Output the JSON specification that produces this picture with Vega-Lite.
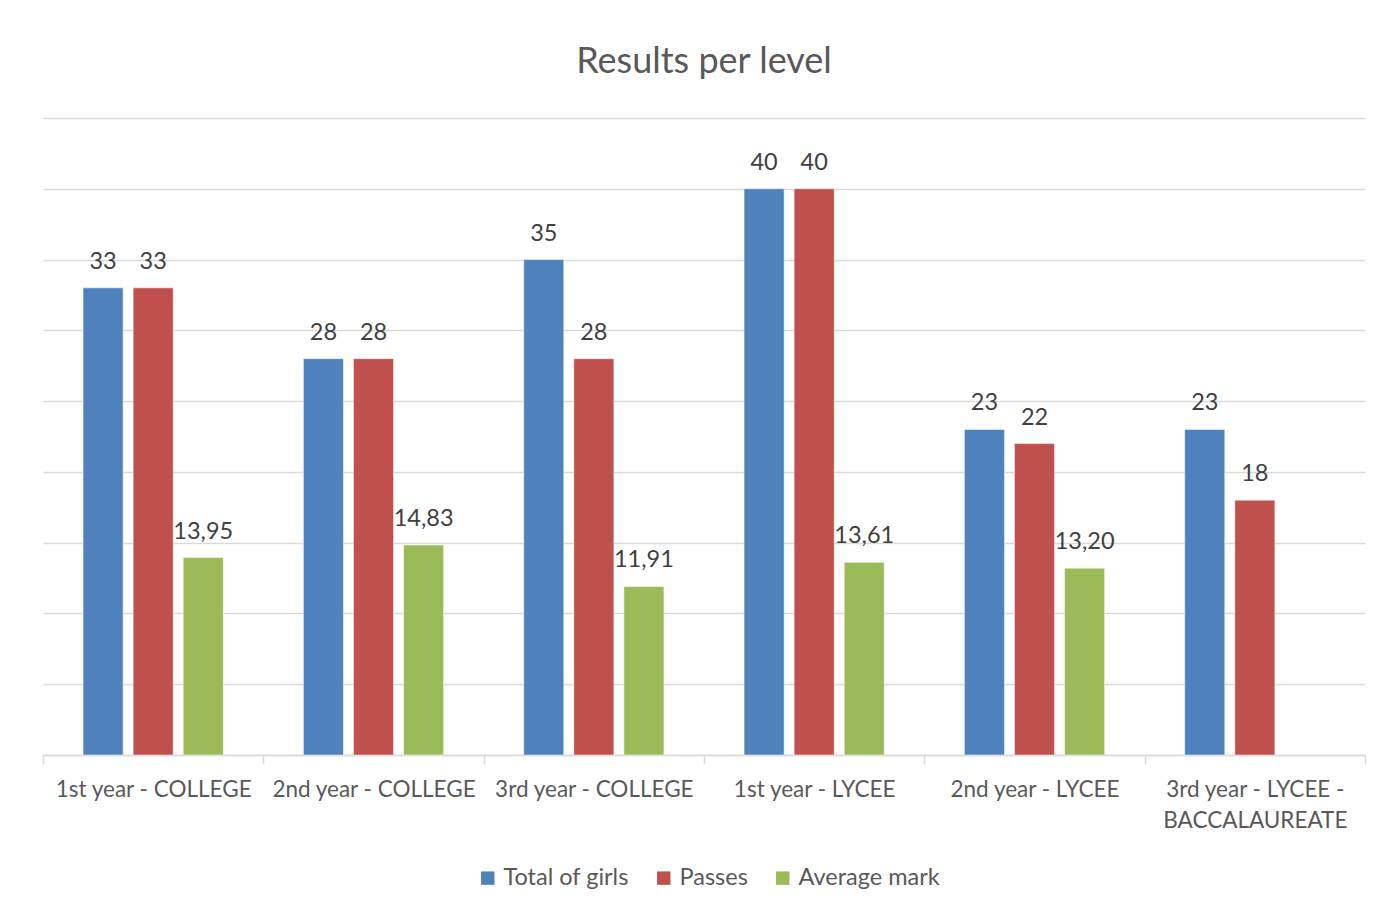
{
  "$schema": "https://vega.github.io/schema/vega-lite/v6.json",
  "autosize": {"type": "none"},
  "width": 1322,
  "height": 637,
  "padding": {"left": 43, "top": 118, "right": 22, "bottom": 157},
  "background": "white",
  "title": {
    "text": "Results per level",
    "fontSize": 36,
    "font": "Lato",
    "fontWeight": "normal",
    "color": "#595959",
    "anchor": "middle",
    "offset": 37
  },
  "data": {
    "values": [
      {"level": "1st year - COLLEGE", "series": "Total of girls", "value": 33},
      {"level": "1st year - COLLEGE", "series": "Passes", "value": 33},
      {"level": "1st year - COLLEGE", "series": "Average mark", "value": 13.95},
      {"level": "2nd year - COLLEGE", "series": "Total of girls", "value": 28},
      {"level": "2nd year - COLLEGE", "series": "Passes", "value": 28},
      {"level": "2nd year - COLLEGE", "series": "Average mark", "value": 14.83},
      {"level": "3rd year - COLLEGE", "series": "Total of girls", "value": 35},
      {"level": "3rd year - COLLEGE", "series": "Passes", "value": 28},
      {"level": "3rd year - COLLEGE", "series": "Average mark", "value": 11.91},
      {"level": "1st year - LYCEE", "series": "Total of girls", "value": 40},
      {"level": "1st year - LYCEE", "series": "Passes", "value": 40},
      {"level": "1st year - LYCEE", "series": "Average mark", "value": 13.61},
      {"level": "2nd year - LYCEE", "series": "Total of girls", "value": 23},
      {"level": "2nd year - LYCEE", "series": "Passes", "value": 22},
      {"level": "2nd year - LYCEE", "series": "Average mark", "value": 13.20},
      {"level": "3rd year - LYCEE - BACCALAUREATE", "series": "Total of girls", "value": 23},
      {"level": "3rd year - LYCEE - BACCALAUREATE", "series": "Passes", "value": 18}
    ]
  },
  "encoding": {
    "x": {
      "field": "level",
      "type": "nominal",
      "sort": null,
      "scale": {"paddingInner": 0, "paddingOuter": 0},
      "axis": {
        "title": null,
        "labelAngle": 0,
        "labelFont": "Lato",
        "labelFontSize": 22.5,
        "labelColor": "#595959",
        "labelPadding": 14,
        "labelLineHeight": 31,
        "labelLimit": 0,
        "labelExpr": "datum.label == '3rd year - LYCEE - BACCALAUREATE' ? ['3rd year - LYCEE -', 'BACCALAUREATE'] : datum.label",
        "domainColor": "#D9D9D9",
        "domainWidth": 1.5,
        "tickColor": "#D9D9D9",
        "tickWidth": 1.5,
        "tickSize": 9,
        "tickBand": "extent",
        "grid": false
      }
    },
    "xOffset": {
      "field": "series",
      "type": "nominal",
      "sort": ["Total of girls", "Passes", "Average mark"],
      "scale": {"paddingInner": 0.2, "paddingOuter": 0.8}
    },
    "y": {
      "field": "value",
      "type": "quantitative",
      "scale": {"domain": [0, 45], "nice": false},
      "axis": {
        "title": null,
        "labels": false,
        "ticks": false,
        "domain": false,
        "values": [0, 5, 10, 15, 20, 25, 30, 35, 40, 45],
        "gridColor": "#D9D9D9",
        "gridWidth": 1.5
      }
    }
  },
  "layer": [
    {
      "mark": {"type": "bar", "stroke": "white", "strokeWidth": 0.5},
      "encoding": {
        "color": {
          "field": "series",
          "type": "nominal",
          "sort": ["Total of girls", "Passes", "Average mark"],
          "scale": {
            "domain": ["Total of girls", "Passes", "Average mark"],
            "range": ["#4F81BD", "#C0504D", "#9BBB59"]
          },
          "legend": {
            "title": null,
            "orient": "none",
            "legendX": 433,
            "legendY": 748,
            "direction": "horizontal",
            "symbolType": "square",
            "symbolSize": 180,
            "symbolStrokeWidth": 0,
            "labelFont": "Lato",
            "labelFontSize": 23.5,
            "labelColor": "#595959",
            "labelOffset": 4,
            "columnPadding": 23
          }
        }
      }
    },
    {
      "transform": [{"filter": "datum.series != 'Average mark'"}],
      "mark": {"type": "text", "baseline": "alphabetic", "dy": -19, "font": "Lato", "fontSize": 23.5, "color": "#404040"},
      "encoding": {"text": {"field": "value", "type": "quantitative", "format": "d"}}
    },
    {
      "transform": [{"filter": "datum.series == 'Average mark'"}],
      "mark": {"type": "text", "baseline": "alphabetic", "dy": -19, "font": "Lato", "fontSize": 23.5, "color": "#404040"},
      "encoding": {"text": {"field": "value", "type": "quantitative", "format": ".2f"}}
    }
  ],
  "config": {
    "locale": {"number": {"decimal": ",", "thousands": " ", "grouping": [3], "currency": ["", " €"]}},
    "view": {"stroke": null}
  }
}
